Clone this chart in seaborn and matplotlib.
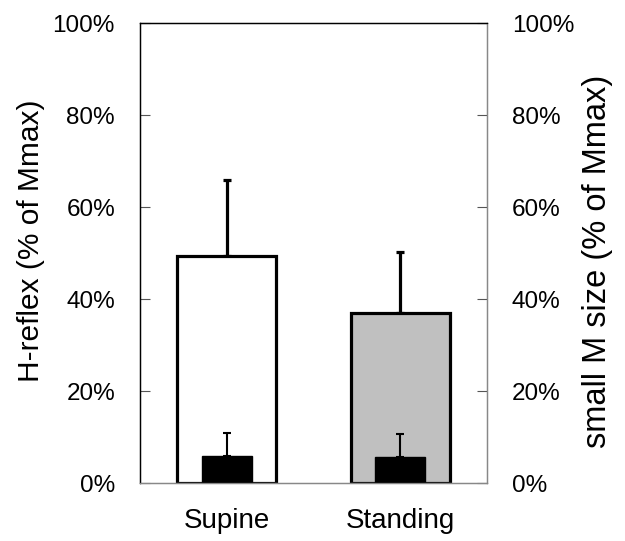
import numpy as np
import matplotlib.pyplot as plt
import seaborn as sns
import pandas as pd

sns.set_theme()
sns.set_style("white")
plt.rcParams['font.family'] = ['Liberation Sans', 'DejaVu Sans']

conditions = ["Supine", "Standing"]
h_reflex = [49.4, 37.0]
h_reflex_sd = [16.5, 13.3]
small_m = [5.9, 5.7]
small_m_sd = [5.0, 4.9]
bar_colors = ["white", "#c0c0c0"]

df = pd.DataFrame({'cond': conditions, 'h': h_reflex, 'm': small_m})

fig = plt.figure(figsize=(6.25, 5.41), dpi=100)
ax = fig.add_axes([0.224, 0.107, 0.555, 0.850])

sns.barplot(data=df, x='cond', y='h', hue='cond', palette=bar_colors, width=0.57,
            edgecolor='black', linewidth=2.3, legend=False, ax=ax, zorder=2)
ax.errorbar(x=np.arange(len(conditions)), y=h_reflex,
            yerr=[np.zeros(len(conditions)), h_reflex_sd],
            fmt='none', ecolor='black', elinewidth=2.3, capsize=3, capthick=2.3, zorder=1)

ax2 = ax.twinx()
sns.barplot(data=df, x='cond', y='m', color='black', width=0.29,
            edgecolor='black', linewidth=1, ax=ax2, zorder=2)
ax2.errorbar(x=np.arange(len(conditions)), y=small_m,
             yerr=[np.zeros(len(conditions)), small_m_sd],
             fmt='none', ecolor='black', elinewidth=1.5, capsize=3, capthick=1.5, zorder=1)

ticks = np.arange(0, 101, 20)
for a in (ax, ax2):
    a.set_ylim(0, 100)
    a.set_xlim(-0.5, 1.5)
    a.set_yticks(ticks)
    a.set_yticklabels([f"{t}%" for t in ticks])
    a.tick_params(axis='y', direction='in', length=7, width=0.8, color='#555555',
                  labelsize=17.5, labelcolor='black', pad=18)
    for s in a.spines.values():
        s.set_color('black')
        s.set_linewidth(0.9)
ax.spines['bottom'].set_color('#888888')
ax.spines['right'].set_color('#888888')
ax2.spines['right'].set_color('#888888')
ax2.spines['bottom'].set_color('#888888')

ax.set_xlabel("")
ax.set_ylabel("H-reflex (% of Mmax)", fontsize=21.5, color='black')
ax2.set_ylabel("small M size (% of Mmax)", fontsize=23.5, color='black')
ax.yaxis.set_label_coords(-0.274, 0.528)
ax2.yaxis.set_label_coords(1.275, 0.483)
ax.tick_params(axis='x', length=0, labelsize=20, labelcolor='black', pad=18)
ax2.tick_params(axis='x', length=0)

fig.savefig("out.png", dpi=100)
